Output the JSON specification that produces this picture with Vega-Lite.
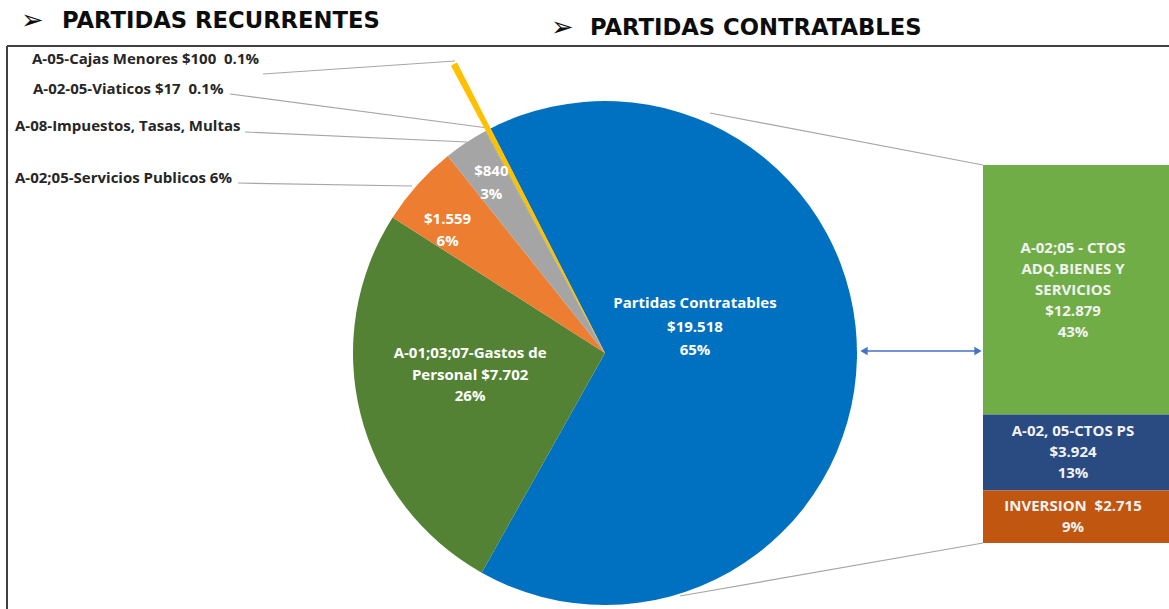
{
  "$schema": "https://vega.github.io/schema/vega-lite/v6.json",
  "width": 1169,
  "height": 609,
  "padding": 0,
  "autosize": {"type": "none"},
  "background": "white",
  "config": {"view": {"stroke": null}},
  "datasets": {
    "pie": [
      {"cat": "Partidas Contratables", "val": 19518, "ord": 1, "lbl": ["Partidas Contratables", "$19.518", "65%"]},
      {"cat": "A-01;03;07-Gastos de Personal", "val": 7702, "ord": 2, "lbl": ["A-01;03;07-Gastos de", "Personal $7.702", "26%"]},
      {"cat": "A-02;05-Servicios Publicos", "val": 1559, "ord": 3, "lbl": ["$1.559", "6%"]},
      {"cat": "A-08-Impuestos, Tasas, Multas", "val": 840, "ord": 4, "lbl": ["$840", "3%"]},
      {"cat": "A-02-05-Viaticos", "val": 17, "ord": 5, "lbl": ""},
      {"cat": "A-05-Cajas Menores", "val": 100, "ord": 6, "lbl": ""}
    ],
    "bar": [
      {"cat": "A-02;05 - CTOS ADQ.BIENES Y SERVICIOS", "val": 12879, "ord": 3, "lbl": ["A-02;05 - CTOS", "ADQ.BIENES Y", "SERVICIOS", "$12.879", "43%"]},
      {"cat": "A-02, 05-CTOS PS", "val": 3924, "ord": 2, "lbl": ["A-02, 05-CTOS PS", "$3.924", "13%"]},
      {"cat": "INVERSION", "val": 2715, "ord": 1, "lbl": ["INVERSION \u00a0$2.715", "9%"]}
    ],
    "leaders": [
      {"x": 263, "y": 74, "x2": 455, "y2": 61},
      {"x": 230, "y": 94, "x2": 488, "y2": 128},
      {"x": 245, "y": 132, "x2": 467, "y2": 142},
      {"x": 238, "y": 183, "x2": 412, "y2": 186},
      {"x": 710, "y": 113, "x2": 983, "y2": 165},
      {"x": 680, "y": 596, "x2": 983, "y2": 543}
    ],
    "frame": [
      {"x": 7, "y": 46, "x2": 1169, "y2": 46},
      {"x": 7, "y": 46, "x2": 7, "y2": 609}
    ],
    "notes": [
      {"t": "A-05-Cajas Menores $100 \u00a00.1%", "x": 32, "y": 59},
      {"t": "A-02-05-Viaticos $17 \u00a00.1%", "x": 33, "y": 89},
      {"t": "A-08-Impuestos, Tasas, Multas", "x": 15, "y": 126},
      {"t": "A-02;05-Servicios Publicos 6%", "x": 15, "y": 178}
    ],
    "titles": [
      {"t": "PARTIDAS RECURRENTES", "x": 62, "y": 28},
      {"t": "PARTIDAS CONTRATABLES", "x": 590, "y": 35}
    ],
    "bullets": [
      {"t": "➢", "x": 21, "y": 21},
      {"t": "➢", "x": 551, "y": 28}
    ]
  },
  "layer": [
    {
      "layer": [
        {
          "data": {"name": "frame"},
          "mark": {"type": "rule", "color": "#404040", "strokeWidth": 2},
          "encoding": {
            "x": {"field": "x", "type": "quantitative", "scale": {"domain": [0, 1169], "nice": false, "zero": false}, "axis": null},
            "y": {"field": "y", "type": "quantitative", "scale": {"domain": [0, 609], "nice": false, "zero": false, "reverse": true}, "axis": null},
            "x2": {"field": "x2"},
            "y2": {"field": "y2"}
          }
        },
        {
          "data": {"name": "leaders"},
          "mark": {"type": "rule", "color": "#A6A6A6", "strokeWidth": 1.2},
          "encoding": {
            "x": {"field": "x", "type": "quantitative", "scale": {"domain": [0, 1169], "nice": false, "zero": false}, "axis": null},
            "y": {"field": "y", "type": "quantitative", "scale": {"domain": [0, 609], "nice": false, "zero": false, "reverse": true}, "axis": null},
            "x2": {"field": "x2"},
            "y2": {"field": "y2"}
          }
        },
        {
          "data": {"name": "pie"},
          "mark": {"type": "arc", "outerRadius": 326},
          "encoding": {
            "theta": {"field": "val", "type": "quantitative", "stack": true, "scale": {"range": [-0.4712, 5.812]}},
            "order": {"field": "ord", "type": "quantitative"},
            "color": {"field": "cat", "type": "nominal", "legend": null,
              "scale": {"domain": ["Partidas Contratables", "A-01;03;07-Gastos de Personal", "A-02;05-Servicios Publicos", "A-08-Impuestos, Tasas, Multas", "A-02-05-Viaticos", "A-05-Cajas Menores", "A-02;05 - CTOS ADQ.BIENES Y SERVICIOS", "A-02, 05-CTOS PS", "INVERSION"],
                        "range": ["#0070C0", "#548235", "#ED7D31", "#A5A5A5", "#5B9BD5", "#FFC000", "#70AD47", "#2A4A82", "#C0560F"]}},
            "opacity": {"condition": {"test": "datum.ord === 6", "value": 1}, "value": 0},
            "x": {"datum": 605, "type": "quantitative", "scale": {"domain": [0, 1169], "nice": false, "zero": false}, "axis": null},
            "y": {"datum": 353, "type": "quantitative", "scale": {"domain": [0, 609], "nice": false, "zero": false, "reverse": true}, "axis": null}
          }
        },
        {
          "data": {"name": "pie"},
          "mark": {"type": "arc", "outerRadius": 252},
          "encoding": {
            "theta": {"field": "val", "type": "quantitative", "stack": true, "scale": {"range": [-0.4712, 5.812]}},
            "order": {"field": "ord", "type": "quantitative"},
            "color": {"field": "cat", "type": "nominal", "legend": null},
            "x": {"datum": 605, "type": "quantitative", "scale": {"domain": [0, 1169], "nice": false, "zero": false}, "axis": null},
            "y": {"datum": 353, "type": "quantitative", "scale": {"domain": [0, 609], "nice": false, "zero": false, "reverse": true}, "axis": null}
          }
        },
        {
          "data": {"name": "pie"},
          "mark": {"type": "text", "radius": 100, "dx": -10, "dy": -52, "font": "Open Sans", "fontWeight": "bold", "fontSize": 15, "fill": "white", "lineHeight": 23.5, "align": "center", "baseline": "middle"},
          "encoding": {
            "theta": {"field": "val", "type": "quantitative", "stack": true},
            "order": {"field": "ord", "type": "quantitative"},
            "text": {"condition": {"test": "datum.ord === 1", "field": "lbl"}, "value": ""},
            "x": {"datum": 605, "type": "quantitative", "scale": {"domain": [0, 1169], "nice": false, "zero": false}, "axis": null},
            "y": {"datum": 353, "type": "quantitative", "scale": {"domain": [0, 609], "nice": false, "zero": false, "reverse": true}, "axis": null}
          }
        },
        {
          "data": {"name": "pie"},
          "mark": {"type": "text", "radius": 137, "dx": -2, "dy": -33, "font": "Open Sans", "fontWeight": "bold", "fontSize": 15, "fill": "white", "lineHeight": 21.5, "align": "center", "baseline": "middle"},
          "encoding": {
            "theta": {"field": "val", "type": "quantitative", "stack": true},
            "order": {"field": "ord", "type": "quantitative"},
            "text": {"condition": {"test": "datum.ord === 2", "field": "lbl"}, "value": ""},
            "x": {"datum": 605, "type": "quantitative", "scale": {"domain": [0, 1169], "nice": false, "zero": false}, "axis": null},
            "y": {"datum": 353, "type": "quantitative", "scale": {"domain": [0, 609], "nice": false, "zero": false, "reverse": true}, "axis": null}
          }
        },
        {
          "data": {"name": "pie"},
          "mark": {"type": "text", "radius": 205, "dx": -5, "dy": 3, "font": "Open Sans", "fontWeight": "bold", "fontSize": 15, "fill": "white", "lineHeight": 22, "align": "center", "baseline": "middle"},
          "encoding": {
            "theta": {"field": "val", "type": "quantitative", "stack": true},
            "order": {"field": "ord", "type": "quantitative"},
            "text": {"condition": {"test": "datum.ord === 3", "field": "lbl"}, "value": ""},
            "x": {"datum": 605, "type": "quantitative", "scale": {"domain": [0, 1169], "nice": false, "zero": false}, "axis": null},
            "y": {"datum": 353, "type": "quantitative", "scale": {"domain": [0, 609], "nice": false, "zero": false, "reverse": true}, "axis": null}
          }
        },
        {
          "data": {"name": "pie"},
          "mark": {"type": "text", "radius": 206, "dy": -10, "font": "Open Sans", "fontWeight": "bold", "fontSize": 15, "fill": "white", "lineHeight": 23, "align": "center", "baseline": "middle"},
          "encoding": {
            "theta": {"field": "val", "type": "quantitative", "stack": true},
            "order": {"field": "ord", "type": "quantitative"},
            "text": {"condition": {"test": "datum.ord === 4", "field": "lbl"}, "value": ""},
            "x": {"datum": 605, "type": "quantitative", "scale": {"domain": [0, 1169], "nice": false, "zero": false}, "axis": null},
            "y": {"datum": 353, "type": "quantitative", "scale": {"domain": [0, 609], "nice": false, "zero": false, "reverse": true}, "axis": null}
          }
        },
        {
          "data": {"name": "notes"},
          "mark": {"type": "text", "font": "Open Sans", "fontWeight": "bold", "fontSize": 15, "fill": "#262626", "align": "left", "baseline": "middle"},
          "encoding": {
            "x": {"field": "x", "type": "quantitative", "scale": {"domain": [0, 1169], "nice": false, "zero": false}, "axis": null},
            "y": {"field": "y", "type": "quantitative", "scale": {"domain": [0, 609], "nice": false, "zero": false, "reverse": true}, "axis": null},
            "text": {"field": "t"}
          }
        },
        {
          "data": {"name": "titles"},
          "mark": {"type": "text", "font": "DejaVu Sans", "fontWeight": "bold", "fontSize": 22.7, "fill": "#0D0D0D", "align": "left", "baseline": "alphabetic"},
          "encoding": {
            "x": {"field": "x", "type": "quantitative", "scale": {"domain": [0, 1169], "nice": false, "zero": false}, "axis": null},
            "y": {"field": "y", "type": "quantitative", "scale": {"domain": [0, 609], "nice": false, "zero": false, "reverse": true}, "axis": null},
            "text": {"field": "t"}
          }
        },
        {
          "data": {"name": "bullets"},
          "mark": {"type": "text", "font": "DejaVu Sans", "fontSize": 27, "fill": "#0D0D0D", "align": "left", "baseline": "middle"},
          "encoding": {
            "x": {"field": "x", "type": "quantitative", "scale": {"domain": [0, 1169], "nice": false, "zero": false}, "axis": null},
            "y": {"field": "y", "type": "quantitative", "scale": {"domain": [0, 609], "nice": false, "zero": false, "reverse": true}, "axis": null},
            "text": {"field": "t"}
          }
        },
        {
          "data": {"values": [{}]},
          "mark": {"type": "rule", "color": "#4472C4", "strokeWidth": 1.5},
          "encoding": {
            "x": {"datum": 862, "type": "quantitative", "scale": {"domain": [0, 1169], "nice": false, "zero": false}, "axis": null},
            "x2": {"datum": 980},
            "y": {"datum": 351, "type": "quantitative", "scale": {"domain": [0, 609], "nice": false, "zero": false, "reverse": true}, "axis": null}
          }
        },
        {
          "data": {"values": [{}]},
          "mark": {"type": "point", "shape": "triangle-left", "filled": true, "color": "#4472C4", "opacity": 1, "size": 70},
          "encoding": {
            "x": {"datum": 864, "type": "quantitative", "scale": {"domain": [0, 1169], "nice": false, "zero": false}, "axis": null},
            "y": {"datum": 351, "type": "quantitative", "scale": {"domain": [0, 609], "nice": false, "zero": false, "reverse": true}, "axis": null}
          }
        },
        {
          "data": {"values": [{}]},
          "mark": {"type": "point", "shape": "triangle-right", "filled": true, "color": "#4472C4", "opacity": 1, "size": 70},
          "encoding": {
            "x": {"datum": 978, "type": "quantitative", "scale": {"domain": [0, 1169], "nice": false, "zero": false}, "axis": null},
            "y": {"datum": 351, "type": "quantitative", "scale": {"domain": [0, 609], "nice": false, "zero": false, "reverse": true}, "axis": null}
          }
        }
      ]
    },
    {
      "data": {"name": "bar"},
      "transform": [
        {"stack": "val", "groupby": [], "sort": [{"field": "ord", "order": "ascending"}], "as": ["v0", "v1"]},
        {"calculate": "(datum.v0 + datum.v1) / 2", "as": "vm"}
      ],
      "layer": [
        {
          "mark": {"type": "rect"},
          "encoding": {
            "x": {"datum": 983, "type": "quantitative", "scale": {"domain": [0, 1169], "nice": false, "zero": false}, "axis": null},
            "x2": {"datum": 1169},
            "y": {"field": "v0", "type": "quantitative", "scale": {"domain": [-3408, 28038], "nice": false, "zero": false}, "axis": null},
            "y2": {"field": "v1"},
            "color": {"field": "cat", "type": "nominal", "legend": null}
          }
        },
        {
          "mark": {"type": "text", "font": "Open Sans", "fontWeight": "bold", "fontSize": 15, "fill": "#F2F2F2", "lineHeight": 21, "align": "center", "baseline": "middle", "dy": {"expr": "-(length(datum.lbl) - 1) * 10.5"}},
          "encoding": {
            "x": {"datum": 1073, "type": "quantitative", "scale": {"domain": [0, 1169], "nice": false, "zero": false}, "axis": null},
            "y": {"field": "vm", "type": "quantitative", "scale": {"domain": [-3408, 28038], "nice": false, "zero": false}, "axis": null},
            "text": {"field": "lbl"}
          }
        }
      ]
    }
  ],
  "resolve": {"scale": {"y": "independent"}}
}
